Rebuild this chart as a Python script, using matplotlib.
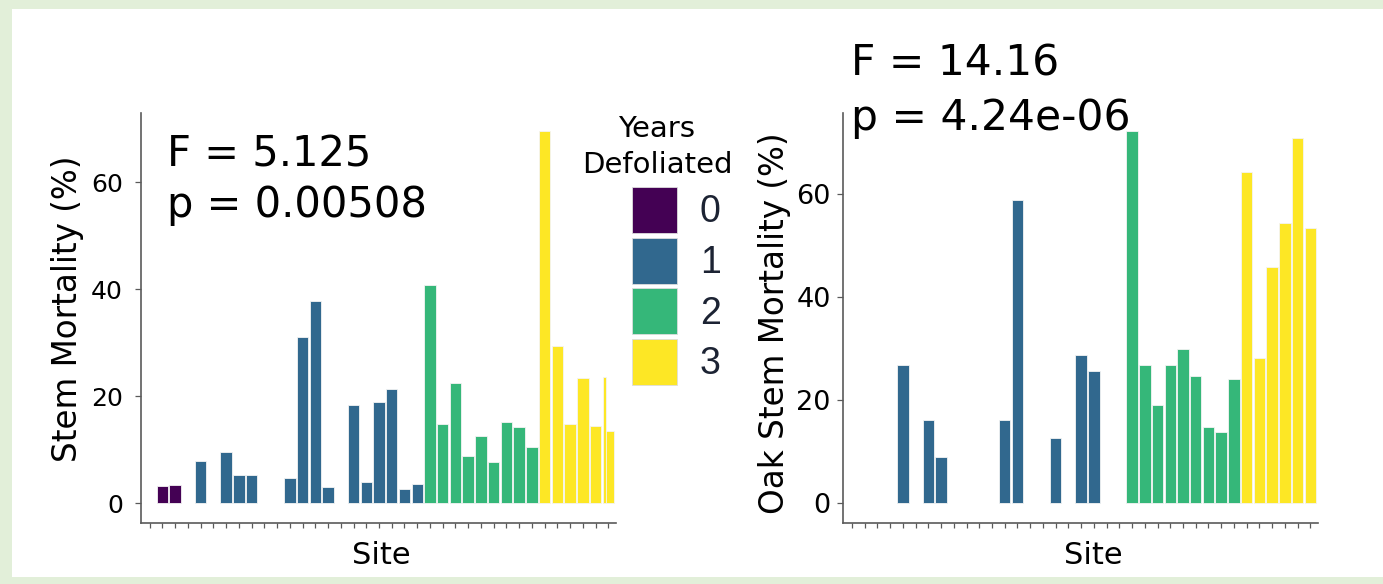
import numpy as np
import matplotlib.pyplot as plt
from matplotlib.patches import Patch, Rectangle

plt.rcParams['font.family'] = ['DejaVu Sans']

nan = np.nan
# 37 sites, same order in both panels
sites = np.arange(37)
years = np.array([0] * 4 + [1] * 18 + [2] * 9 + [3] * 6)

stem = np.array([nan, 3.2, 3.4, nan, 7.9, nan, 9.6, 5.2, 5.2, nan,
                 nan, 4.6, 31.1, 37.8, 2.9, nan, 18.4, 4.0, 18.8, 21.4,
                 2.7, 3.6, 40.7, 14.7, 22.5, 8.7, 12.6, 7.7, 15.1, 14.3,
                 10.4, 69.5, 29.4, 14.7, 23.3, 14.4, 13.5])
# a sliver of an overlapped bar on the last site
stem_overlap = (36, 23.5)

oak = np.array([nan, nan, nan, nan, 26.8, nan, 16.1, 8.9, nan, nan,
                nan, nan, 16.1, 58.8, nan, nan, 12.7, nan, 28.7, 25.7,
                nan, nan, 72.2, 26.8, 19.0, 26.8, 29.8, 24.7, 14.8, 13.8,
                24.0, 64.1, 28.1, 45.8, 54.3, 70.7, 53.4])

group_labels = ['0', '1', '2', '3']
colors = ['#440154', '#31688e', '#35b779', '#fde725']

W, H = 1383, 584
fig = plt.figure(figsize=(W / 100, H / 100), dpi=100)
fig.patch.set_facecolor('#e2efd9')
fig.add_artist(Rectangle((12 / W, 7 / H), 1, 1 - 16 / H, transform=fig.transFigure,
                         facecolor='white', edgecolor='none', zorder=-10))

ax1 = fig.add_axes([141 / W, 1 - 522.7 / H, 475 / W, 409.7 / H])
ax2 = fig.add_axes([843.3 / W, 1 - 522.7 / H, 474.7 / W, 409.7 / H])


def draw(ax, vals, ylim, ylabel, tsize, pad, xlab_x, ylab_x, ylab_y):
    m = ~np.isnan(vals)
    ax.bar(sites[m], vals[m], width=0.9, color=[colors[y] for y in years[m]],
           edgecolor='#f4f4f4', linewidth=0.6)
    ax.set_xlim(-0.68, 36.6)
    ax.set_ylim(*ylim)
    ax.set_xticks(sites)
    ax.set_xticklabels([])
    ax.set_yticks([0, 20, 40, 60])
    for s in ['top', 'right']:
        ax.spines[s].set_visible(False)
    for s in ['left', 'bottom']:
        ax.spines[s].set_color('#5a5a5a')
        ax.spines[s].set_linewidth(1.2)
    ax.tick_params(axis='x', length=3.5, width=0.9, color='#5a5a5a')
    ax.tick_params(axis='y', length=4, width=0.9, color='#5a5a5a', labelsize=tsize, pad=pad)
    ax.set_xlabel('Site', fontsize=22)
    ax.set_ylabel(ylabel, fontsize=23.5)
    ax.xaxis.set_label_coords(xlab_x, -0.044)
    ax.yaxis.set_label_coords(ylab_x, ylab_y)
    ax.set_facecolor('none')


draw(ax1, stem, (-3.68, 72.9), 'Stem Mortality (%)', 18, 9, 0.505, -0.119, 0.523)
draw(ax2, oak, (-3.76, 75.6), 'Oak Stem Mortality (%)', 19.5, 5, 0.526, -0.111, 0.487)

i, h = stem_overlap
ax1.bar(i - 0.45, h, width=0.28, align='edge', color=colors[years[i]],
        edgecolor='#f4f4f4', linewidth=0.6)

fig.text(167 / W, 1 - 166.7 / H, 'F = 5.125', fontsize=30, va='baseline')
fig.text(167 / W, 1 - 216.7 / H, 'p = 0.00508', fontsize=30, va='baseline')
fig.text(851 / W, 1 - 75 / H, 'F = 14.16', fontsize=30.5, va='baseline')
fig.text(851 / W, 1 - 130 / H, 'p = 4.24e-06', fontsize=30.5, va='baseline')

# legend title drawn on its own, centred over the keys as in the source
fig.text(657 / W, 1 - 137 / H, 'Years', fontsize=21, ha='center', va='baseline')
fig.text(657 / W, 1 - 173 / H, 'Defoliated', fontsize=21, ha='center', va='baseline')

handles = [Patch(facecolor=c, edgecolor='#dddddd', linewidth=0.6) for c in colors]
leg = fig.legend(handles, group_labels, loc='upper left',
                 bbox_to_anchor=(632 / W, 1 - 187 / H), frameon=False,
                 prop={'family': 'Liberation Sans', 'size': 27},
                 handlelength=1.2, handleheight=1.51, labelspacing=0.125,
                 handletextpad=0.61, borderpad=0, borderaxespad=0)
for t in leg.get_texts():
    t.set_color('#1c2333')

fig.savefig('out.png', dpi=100)
